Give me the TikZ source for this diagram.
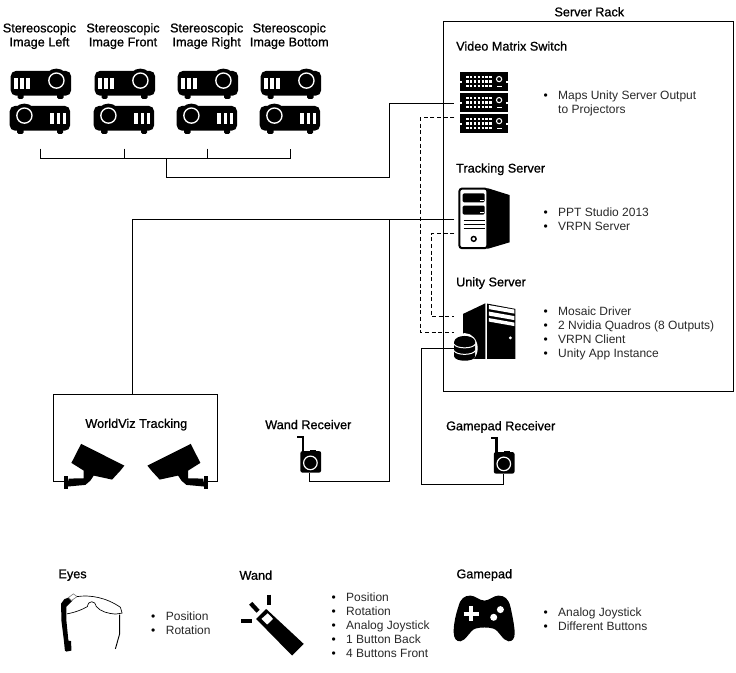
\documentclass[tikz,border=0pt]{standalone}
\usepackage{fontspec}
\setmainfont{Liberation Sans}
\newfontfamily\headingfont[FakeBold=0.9]{Liberation Sans}
\newcommand{\noteitem}[1]{\makebox[11pt][l]{\textcolor{black}{\textbullet}}#1}
\newcommand{\notecont}[1]{\hspace*{11pt}#1}
\definecolor{notegray}{RGB}{40, 40, 40}
\tikzset{
  heading/.style={inner sep=0pt, align=center, font=\fontsize{9.5}{10.5}\selectfont\headingfont},
  notes/.style={anchor=west, inner sep=0pt, align=left, text=notegray, font=\fontsize{9}{10.5}\selectfont},
  iconspot/.style={inner sep=0pt, outer sep=0pt},
  framebox/.style={draw, inner sep=0pt, outer sep=0pt},
  linkdash/.style={dash pattern=on 3pt off 2pt},
  projector/.pic={
    \fill[rounded corners=4pt] (-29.7,-12.4) rectangle (30.7,12.4);
    \fill[rounded corners=1pt] (-22.7,10) rectangle (-16.7,15.5);
    \fill[rounded corners=1pt] (16.7,10) rectangle (23.3,15.5);
    \fill (16,-2.7) circle (12);
    \draw[white, line width=1pt] (16,-2.7) circle (7.6);
    \fill[white] (-26,-5.7) rectangle (-22.5,5.3);
    \fill[white] (-20,-5.7) rectangle (-16.5,5.3);
    \fill[white] (-14,-5.7) rectangle (-10,5.3);
  },
  rackunit/.pic={
    \fill (-23.7,-9.3) rectangle (23.7,9.3);
    \fill[white] (-23.7,-1) rectangle (-22.2,1);
    \fill[white] (22.2,-1) rectangle (23.7,1);
    \draw[white, line width=1.8pt, dash pattern=on 1.8pt off 1.1pt] (-18,-4.4) -- (8,-4.4);
    \draw[white, line width=1.8pt, dash pattern=on 1.8pt off 1.1pt] (-18,0) -- (8,0);
    \draw[white, line width=1.8pt, dash pattern=on 1.8pt off 1.1pt] (-18,4.4) -- (8,4.4);
    \draw[white, line width=0.8pt] (15,-2.5) circle (2.6);
    \fill[white] (12.5,4.2) rectangle (17.5,5.8);
  },
  securitycam/.pic={
    % body with neck and arm in one outline, then the wall plate
    \fill (-54.8,-37.7) -- (-11.5,-16) -- (-15.5,-11) -- (-23.8,-2) -- (-33,-4) -- (-42.2,-6)
      -- (-45.5,-1) -- (-50.5,3.3) -- (-68.8,5) -- (-67.2,-3) -- (-52.2,-3.3) -- (-52.2,-11)
      -- (-64.5,-18.7) -- cycle;
    \fill (-72.2,-6) rectangle (-67.8,7);
  },
  receiver/.pic={
    \fill[rounded corners=1.5pt] (-9.3,-21.5) rectangle (11.4,0);
    \fill (0.5,-23) rectangle (6.5,-20);
    \fill (-12.5,-37) rectangle (-5.5,-34.5);
    \fill (-8,-37) rectangle (-5.5,-20);
    \draw[white, line width=0.9pt] (0.7,-9.7) circle (6.8);
  }
}
\begin{document}
\begin{tikzpicture}[x=0.75pt, y=-0.75pt, line width=0.75pt]
  \useasboundingbox (-0.4,-0.6) rectangle (735.6,672.4);

  % Projectors
  \node[heading] (labelleft) at (39.1,35.5) {Stereoscopic\\Image Left};
  \node[heading] (labelfront) at (122.6,35.5) {Stereoscopic\\Image Front};
  \node[heading] (labelright) at (206.3,35.5) {Stereoscopic\\Image Right};
  \node[heading] (labelbottom) at (288.9,35.5) {Stereoscopic\\Image Bottom};
  \pic at (40,82.7) {projector};
  \pic at (124,82.7) {projector};
  \pic at (207,82.7) {projector};
  \pic at (290,82.7) {projector};
  \pic[xscale=-1] at (40,117.7) {projector};
  \pic[xscale=-1] at (124,117.7) {projector};
  \pic[xscale=-1] at (207,117.7) {projector};
  \pic[xscale=-1] at (290,117.7) {projector};

  % Server rack
  \node[framebox, minimum width=217.1pt, minimum height=277.5pt] (rack) at (588.25,206) {};
  \node[heading] (racklabel) at (588.9,11.2) {Server Rack};

  \node[heading, anchor=west] (switchlabel) at (455.3,45.5) {Video Matrix Switch};
  \node[iconspot, minimum width=45pt, minimum height=46pt] (switch) at (484,102.5) {};
  \pic at (483.7,81) {rackunit};
  \pic at (483.7,102) {rackunit};
  \pic at (483.7,123) {rackunit};
  \node[notes] (switchnotes) at (542.6,103) {\noteitem{Maps Unity Server Output}\\\notecont{to Projectors}};

  \node[heading, anchor=west] (trackinglabel) at (455.3,168.7) {Tracking Server};
  \node[iconspot, minimum width=45pt, minimum height=46.5pt] (tracking) at (484,219) {};
  % Tracking tower
  \fill (487,187.5) -- (509.3,194.5) -- (509.3,241.7) -- (487,248.3) -- cycle;
  \draw[line width=1.5pt, rounded corners=2pt, fill=white] (459,188) rectangle (487,247.6);
  \fill[rounded corners=1pt] (462.3,192.7) rectangle (484.3,201.7);
  \fill[rounded corners=1pt] (462.3,205) rectangle (484.3,214);
  \fill[white] (480,199) rectangle (483.3,200);
  \fill[white] (480,211.3) rectangle (483.3,212.3);
  \draw (463.3,220) -- (484.3,220);
  \draw (463.3,224.2) -- (484.3,224.2);
  \draw (463.3,228.3) -- (484.3,228.3);
  \draw[line width=1.1pt] (473.3,238.3) circle (2.4);
  \node[notes] (trackingnotes) at (542.6,218.6) {\noteitem{PPT Studio 2013}\\\noteitem{VRPN Server}};

  \node[heading, anchor=west] (unitylabel) at (455.3,282.5) {Unity Server};
  % Unity tower and database
  \fill (462.7,313.3) -- (485,302.7) -- (485,358.3) -- (462.7,358.3) -- cycle;
  \fill (486.7,303) -- (515,308.3) -- (515,358.3) -- (486.7,358.3) -- cycle;
  \fill[white] (488.5,304.5) -- (514,309) -- (514,313) -- (488.5,308.5) -- cycle;
  \fill[white] (488.5,311) -- (514,315.5) -- (514,319.5) -- (488.5,315) -- cycle;
  \fill[white] (488.5,317.5) -- (514,322) -- (514,325.5) -- (488.5,321) -- cycle;
  \fill[white] (510,337.3) circle (1.6);
  \fill[white] (464.3,347.5) ellipse (13 and 15);
  \fill (453.8,341) -- (453.8,356) .. controls (455,361.5) and (473.5,361.5) .. (474.8,356)
    -- (474.8,341) .. controls (473.5,333.5) and (455,333.5) .. (453.8,341) -- cycle;
  \draw[white] (453.5,343.5) .. controls (456,348.5) and (472.5,348.5) .. (475,343.5);
  \draw[white] (453.5,350) .. controls (456,355) and (472.5,355) .. (475,350);
  \node[iconspot, minimum width=15.75pt, minimum height=20pt] (unitydb) at (464.5,348) {};
  \node[notes] (unitynotes) at (542.6,332.6) {\noteitem{Mosaic Driver}\\\noteitem{2 Nvidia Quadros (8 Outputs)}\\\noteitem{VRPN Client}\\\noteitem{Unity App Instance}};

  % Tracking box and receivers
  \node[framebox, minimum width=123pt, minimum height=65.25pt] (worldviz) at (135.5,437.5) {};
  \fill[white] (67.7,480) rectangle (203.3,482);
  \node[heading] (worldvizlabel) at (135.9,424) {WorldViz Tracking};
  \pic at (135.5,481) {securitycam};
  \pic[xscale=-1] at (135.5,481) {securitycam};
  \node[heading] (wandlabel) at (307.9,424) {Wand Receiver};
  \node[iconspot, minimum width=16pt, minimum height=27.75pt] (wandrx) at (309.3,453.5) {};
  \pic at (309.3,472) {receiver};
  \node[heading] (gamepadlabel) at (500.3,426.4) {Gamepad Receiver};
  \node[iconspot, minimum width=16pt, minimum height=27.75pt] (gamepadrx) at (502.7,454.5) {};
  \pic at (502.7,473) {receiver};

  % Connector end points
  \coordinate (tapa) at (40.5,148);
  \coordinate (tapb) at (124.5,148);
  \coordinate (tapc) at (207.5,148);
  \coordinate (tapd) at (290.5,148);
  \coordinate (bara) at (40.5,158);
  \coordinate (barb) at (124.5,158);
  \coordinate (barc) at (207.5,158);
  \coordinate (bard) at (290.5,158);
  \coordinate (barstem) at (166.5,158);
  \coordinate (riser) at (389.5,177);
  \coordinate (switchlow) at (454,117);
  \coordinate (outturn) at (420,331.7);
  \coordinate (unitylow) at (454,331.7);
  \coordinate (trackinglow) at (454,233);
  \coordinate (vrpnturn) at (431,316);
  \coordinate (unityhigh) at (454,316);
  \coordinate (worldviztop) at (132,394);
  \coordinate (wandjoin) at (389.5,219);
  \coordinate (wandturn) at (389.5,481);
  \coordinate (padturn) at (421,484);

  % Connectors
  \draw (tapa) -- (bara) -- (bard) -- (tapd);
  \draw (tapb) -- (barb);
  \draw (tapc) -- (barc);
  \draw (barstem) |- (riser) |- (switch.west);
  \draw[linkdash] (switchlow) -| (outturn) -- (unitylow);
  \draw[linkdash] (trackinglow) -| (vrpnturn) -- (unityhigh);
  \draw (tracking.west) -| (worldviztop);
  \draw (wandjoin) -- (wandturn) -| (wandrx.south);
  \draw (unitydb.west) -| (padturn) -| (gamepadrx.south);

  % Legend
  \node[heading, anchor=west] (eyeslabel) at (57.6,574.6) {Eyes};
  \fill (60.7,603) -- (64,598.5) -- (71,596) -- (72,600) -- (66,606) -- (66,620) -- (68,640)
    -- (70.7,640.5) -- (71,650) -- (66,651) -- (64.5,650) -- (63.5,640) -- (61,620) -- cycle;
  \draw[gray, line width=0.5pt, fill=white] (68,597) -- (73,593.3) -- (76.7,596) -- (71,600) -- cycle;
  \draw[line width=0.5pt] (76.7,596) .. controls (90,594) and (106,597) .. (120,606.7)
    -- (121.7,612.5) -- (115,613.5) .. controls (108,613) and (100,611) .. (96,606)
    .. controls (95,600) and (88,599) .. (87,606) .. controls (82,609) and (74,612) .. (66.5,613.3);
  \draw[line width=0.7pt] (119.3,614) -- (119.3,633) -- (115,648.3);
  \node[notes] (eyesnotes) at (150.3,622.9) {\noteitem{Position}\\\noteitem{Rotation}};

  \node[heading, anchor=west] (wandlegend) at (238.6,574.6) {Wand};
  \fill (255.7,618.3) -- (265.7,608.3) -- (303.3,643.3) -- (291.7,655) -- cycle;
  \fill[white] (261,618.3) -- (267.3,612.7) -- (272.7,618.3) -- (266.7,624) -- cycle;
  \draw[line width=3.2pt] (268.7,594) -- (268.7,604);
  \draw[line width=3.2pt] (250.3,602.7) -- (257.7,610.7);
  \draw[line width=3.2pt] (241,620.3) -- (251.7,620.3);
  \node[notes] (wandnotes) at (330.6,624.4) {\noteitem{Position}\\\noteitem{Rotation}\\\noteitem{Analog Joystick}\\\noteitem{1 Button Back}\\\noteitem{4 Buttons Front}};

  \node[heading] (gamepadlegend) at (483.9,574.4) {Gamepad};
  \fill (484,600) .. controls (479,600) and (475,595) .. (470,595)
    .. controls (464,595) and (460,598) .. (458,606)
    .. controls (455,615) and (453,625) .. (453.3,632)
    .. controls (453.5,638) and (456,641) .. (460,640.7)
    .. controls (466,640) and (469,630) .. (475,628)
    .. controls (480,626.5) and (488,626.5) .. (493,628)
    .. controls (499,630) and (502,640) .. (508,640.7)
    .. controls (512,641) and (514.5,638) .. (514.3,632)
    .. controls (514,625) and (512,615) .. (510,606)
    .. controls (508,598) and (504,595) .. (498,595)
    .. controls (493,595) and (489,600) .. (484,600) -- cycle;
  \draw[white, line width=3.2pt] (463.2,613.3) -- (478.2,613.3);
  \draw[white, line width=3.2pt] (470.7,605.8) -- (470.7,620.8);
  \fill[white] (500,609) circle (3.5);
  \fill[white] (493.3,616.7) circle (3.5);
  \node[notes] (gamepadnotes) at (542.6,619) {\noteitem{Analog Joystick}\\\noteitem{Different Buttons}};
\end{tikzpicture}
\end{document}
